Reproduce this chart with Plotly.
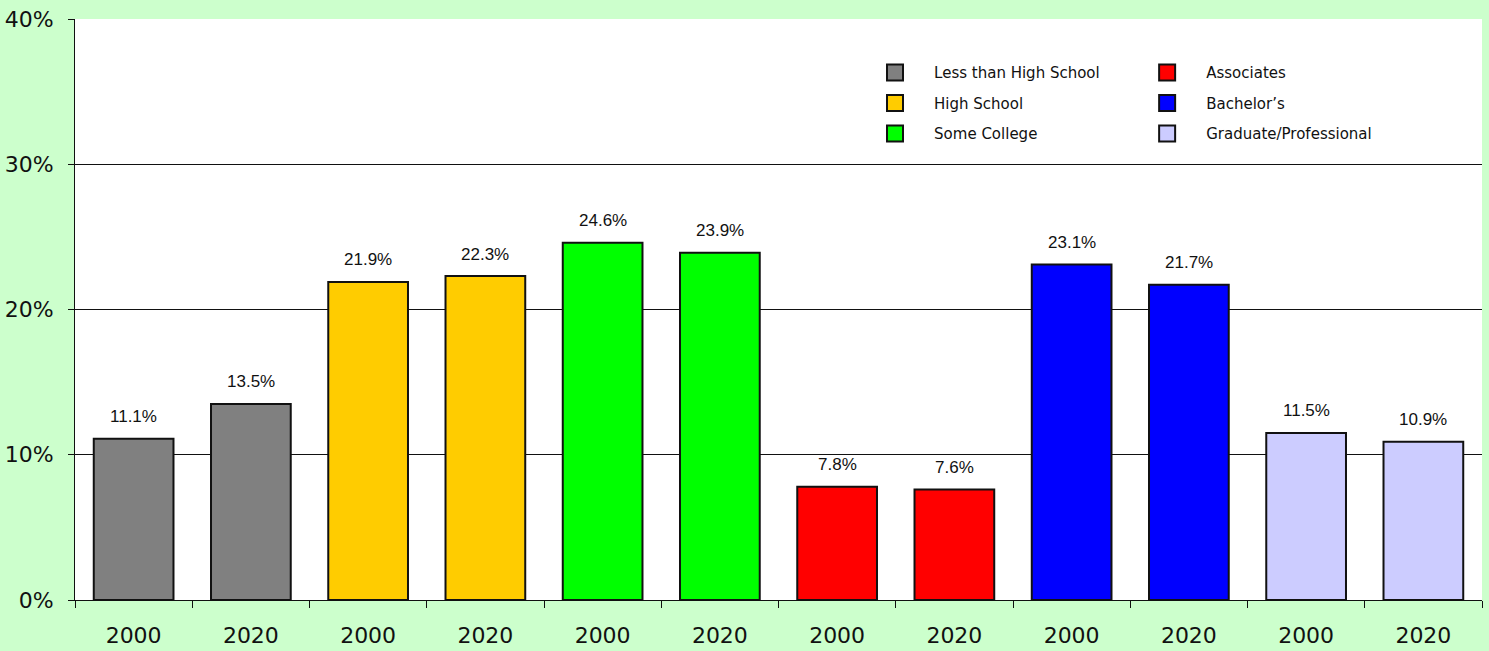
import plotly.graph_objects as go

groups = ["Less than High School", "High School", "Some College",
          "Associates", "Bachelor\u2019s", "Graduate/Professional"]
colors = ["#808080", "#FFCC00", "#00FF00", "#FF0000", "#0000FF", "#CCCCFF"]
years = ["2000", "2020"]
values = [[11.1, 13.5], [21.9, 22.3], [24.6, 23.9],
          [7.8, 7.6], [23.1, 21.7], [11.5, 10.9]]

fig = go.Figure()
positions = []
labels = []
for gi, (g, c, vals) in enumerate(zip(groups, colors, values)):
    xs = [gi * 2 + k for k in range(len(years))]
    positions += xs
    labels += years
    fig.add_trace(go.Bar(
        x=xs, y=vals, marker=dict(color=c, line=dict(color="#111111", width=2)),
        width=0.68, showlegend=False, hoverinfo="y"))
    for x, v in zip(xs, vals):
        fig.add_annotation(x=x, y=v, text=f"{v:.1f}%", showarrow=False,
                           yshift=22, font=dict(family="Liberation Sans, Arial", size=17, color="#111111"))
    fig.add_trace(go.Scatter(
        x=[None], y=[None], mode="markers", name="\u00a0\u00a0\u00a0\u00a0" + g,
        legendgroup=g,
        marker=dict(symbol="square", size=22, color=c, line=dict(color="#111111", width=2)),
        legend="legend" if gi < 3 else "legend2"))

legend_common = dict(bgcolor="rgba(0,0,0,0)", font=dict(family="DejaVu Sans", size=15, color="#111111"),
                     itemsizing="trace", tracegroupgap=8, yanchor="top", xanchor="left")

fig.update_layout(
    width=1489, height=651,
    margin=dict(l=75, r=7, t=19, b=51),
    paper_bgcolor="#CCFFCC", plot_bgcolor="#FFFFFF",
    font=dict(family="DejaVu Sans", color="#111111"),
    legend=dict(x=0.5686, y=0.936, **legend_common),
    legend2=dict(x=0.762, y=0.936, **legend_common),
    xaxis=dict(range=[-0.5, len(positions) - 0.5], tickvals=positions, ticktext=labels,
               ticks="", showgrid=False, showline=True, linecolor="#111111", linewidth=1,
               ticklabelstandoff=16, automargin=False,
               tickfont=dict(size=22, family="DejaVu Sans", color="#111111"),
               minor=dict(tickvals=[p - 0.5 for p in positions] + [len(positions) - 0.5],
                          ticks="outside", ticklen=7, tickcolor="#111111", showgrid=False),
               zeroline=False, fixedrange=True),
    yaxis=dict(range=[0, 40], dtick=10, ticksuffix="%", showgrid=True, gridcolor="#111111",
               gridwidth=1, showline=True, linecolor="#111111", linewidth=1,
               ticks="outside", ticklen=6, tickcolor="#111111", ticklabelstandoff=10,
               automargin=False,
               tickfont=dict(size=22, family="DejaVu Sans", color="#111111"),
               zeroline=False, fixedrange=True),
)

fig.write_html("out.html", config={"displayModeBar": False},
               post_script="document.body.style.margin='0';document.body.style.background='#CCFFCC';")
